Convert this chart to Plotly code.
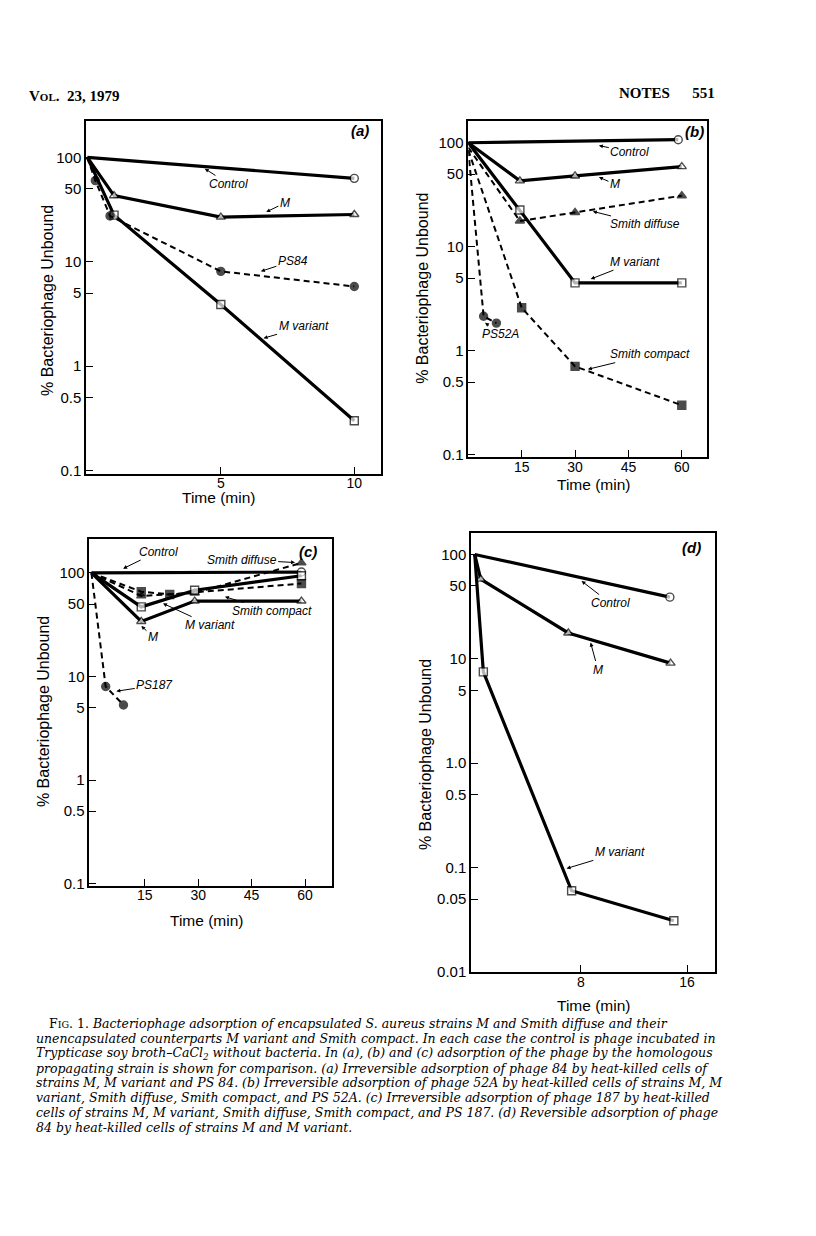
import math

import plotly.graph_objects as go

# ---- panel (a): phage 84, irreversible ----
A_CONTROL_T = [0, 10]
A_CONTROL = [100, 63]
A_M_T = [0, 1, 5, 10]
A_M = [100, 43, 26.8, 28.4]
A_PS84_T = [0, 0.3, 0.85, 5, 10]
A_PS84 = [100, 60, 27.5, 8.1, 5.8]
A_MVAR_T = [0, 1, 5, 10]
A_MVAR = [100, 28, 3.9, 0.30]

# ---- panel (b): phage 52A, irreversible ----
B_CONTROL_T = [0, 59]
B_CONTROL = [100, 107]
B_M_T = [0, 14.5, 30, 60]
B_M = [100, 43, 48, 59]
B_SDIFF_T = [0, 14.5, 30, 60]
B_SDIFF = [90, 17.7, 21.4, 31]
B_MVAR_T = [0, 14.5, 30, 60]
B_MVAR = [100, 22.6, 4.5, 4.5]
B_SCOMP_T = [0, 15, 30, 60]
B_SCOMP = [85, 2.6, 0.71, 0.30]
B_PS52A_T = [0, 4.3, 7.9]
B_PS52A = [85, 2.15, 1.85]

# ---- panel (c): phage 187, irreversible ----
C_CONTROL_T = [0, 59]
C_CONTROL = [100, 102]
C_M_T = [0, 14, 29, 59]
C_M = [100, 34, 53.5, 53.5]
C_MVAR_T = [0, 14, 29, 59]
C_MVAR = [100, 47, 68, 94]
C_SDIFF_T = [0, 14, 29, 59]
C_SDIFF = [100, 60, 64, 125]
C_SCOMP_T = [0, 14, 22, 59]
C_SCOMP = [100, 66, 62, 79]
C_PS187_T = [0, 4, 9]
C_PS187 = [100, 8.0, 5.3]

# ---- panel (d): phage 84, reversible ----
D_CONTROL_T = [0, 14.7]
D_CONTROL = [100, 39]
D_M_T = [0, 0.45, 7.05, 14.75]
D_M = [100, 58, 17.7, 9.1]
D_MVAR_T = [0, 0.65, 7.3, 15]
D_MVAR = [100, 7.5, 0.06, 0.031]

X_TICKS_A = [5, 10]
X_TICKS_BC = [15, 30, 45, 60]
X_TICKS_D = [8, 16]
Y_TICKS_ABC = [100, 50, 10, 5, 1, 0.5, 0.1]
Y_LABELS_ABC = ["100", "50", "10", "5", "1", "0.5", "0.1"]
Y_TICKS_D = [100, 50, 10, 5, 1, 0.5, 0.1, 0.05, 0.01]
Y_LABELS_D = ["100", "50", "10", "5", "1.0", "0.5", "0.1", "0.05", "0.01"]

CAPTION = [
    "F<span style='font-size:9.5px'>IG</span>. 1. <i>Bacteriophage adsorption of encapsulated S. aureus strains M and Smith diffuse and their</i>",
    "<i>unencapsulated counterparts M variant and Smith compact. In each case the control is phage incubated in</i>",
    "<i>Trypticase soy broth–CaCl<sub>2</sub> without bacteria. In (a), (b) and (c) adsorption of the phage by the homologous</i>",
    "<i>propagating strain is shown for comparison. (a) Irreversible adsorption of phage 84 by heat-killed cells of</i>",
    "<i>strains M, M variant and PS 84. (b) Irreversible adsorption of phage 52A by heat-killed cells of strains M, M</i>",
    "<i>variant, Smith diffuse, Smith compact, and PS 52A. (c) Irreversible adsorption of phage 187 by heat-killed</i>",
    "<i>cells of strains M, M variant, Smith diffuse, Smith compact, and PS 187. (d) Reversible adsorption of phage</i>",
    "<i>84 by heat-killed cells of strains M and M variant.</i>",
]

W, H = 816, 1236
SANS = "Liberation Sans"
SERIF = "Liberation Serif"


def px(x):
    return x / W


def py(y):
    return 1 - y / H


def add_series(fig, n, t, v, symbol, filled, dashed):
    sizes = [0 if ti == 0 else 8 for ti in t]
    fig.add_trace(go.Scatter(
        x=t, y=v, mode="lines+markers", xaxis=f"x{n}", yaxis=f"y{n}",
        line=dict(color="black", width=2 if dashed else 3.2, dash="6px,4px" if dashed else "solid"),
        marker=dict(symbol=symbol, size=sizes, color="black" if filled else "white",
                    line=dict(color="black", width=1.4)),
        showlegend=False, cliponaxis=False,
    ))


def label(fig, n, text, tx, ty, x, y):
    fig.add_annotation(
        x=x, y=math.log10(y), ax=tx, ay=math.log10(ty),
        xref=f"x{n}", yref=f"y{n}", axref=f"x{n}", ayref=f"y{n}",
        text=f"<i>{text}</i>", showarrow=True, arrowhead=2, arrowsize=0.8,
        arrowwidth=1, arrowcolor="black",
        font=dict(family=SANS, size=12, color="black"),
    )


def tag(fig, n, text, x, y):
    fig.add_annotation(x=x, y=math.log10(y), xref=f"x{n}", yref=f"y{n}",
                       xanchor="center", yanchor="middle",
                       text=f"<b><i>{text}</i></b>", showarrow=False,
                       font=dict(family=SANS, size=15, color="black"))


def page_text(fig, x, y, text, font, xanchor="center", angle=0):
    fig.add_annotation(x=px(x), y=py(y), xref="paper", yref="paper",
                       xanchor=xanchor, yanchor="middle", textangle=angle,
                       text=text, showarrow=False, font=font)


def x_axis(domain, rng, ticks, anchor):
    return dict(domain=domain, range=rng, tickvals=ticks, ticktext=[str(t) for t in ticks],
                ticks="inside", ticklen=7, tickwidth=1.4, tickcolor="black",
                showline=True, linewidth=1.5, linecolor="black", mirror=True,
                showgrid=False, zeroline=False, anchor=anchor, ticklabelstandoff=-4,
                tickfont=dict(family=SANS, size=14, color="black"))


def y_axis(domain, rng, ticks, labels, anchor):
    return dict(domain=domain, type="log", range=rng, tickvals=ticks, ticktext=labels,
                ticks="inside", ticklen=7, tickwidth=1.4, tickcolor="black",
                showline=True, linewidth=1.5, linecolor="black", mirror=True,
                showgrid=False, zeroline=False, anchor=anchor,
                tickfont=dict(family=SANS, size=15, color="black"))


fig = go.Figure()

# (a)
add_series(fig, "", A_CONTROL_T, A_CONTROL, "circle", False, False)
add_series(fig, "", A_M_T, A_M, "triangle-up", False, False)
add_series(fig, "", A_MVAR_T, A_MVAR, "square", False, False)
add_series(fig, "", A_PS84_T, A_PS84, "circle", True, True)
# (b)
add_series(fig, "2", B_CONTROL_T, B_CONTROL, "circle", False, False)
add_series(fig, "2", B_M_T, B_M, "triangle-up", False, False)
add_series(fig, "2", B_MVAR_T, B_MVAR, "square", False, False)
add_series(fig, "2", B_SDIFF_T, B_SDIFF, "triangle-up", True, True)
add_series(fig, "2", B_SCOMP_T, B_SCOMP, "square", True, True)
add_series(fig, "2", B_PS52A_T, B_PS52A, "circle", True, True)
# (c)
add_series(fig, "3", C_CONTROL_T, C_CONTROL, "circle", False, False)
add_series(fig, "3", C_SDIFF_T, C_SDIFF, "triangle-up", True, True)
add_series(fig, "3", C_SCOMP_T, C_SCOMP, "square", True, True)
add_series(fig, "3", C_M_T, C_M, "triangle-up", False, False)
add_series(fig, "3", C_MVAR_T, C_MVAR, "square", False, False)
add_series(fig, "3", C_PS187_T, C_PS187, "circle", True, True)
# (d)
add_series(fig, "4", D_CONTROL_T, D_CONTROL, "circle", False, False)
add_series(fig, "4", D_M_T, D_M, "triangle-up", False, False)
add_series(fig, "4", D_MVAR_T, D_MVAR, "square", False, False)

# curve labels
tag(fig, "", "(a)", 10.2, 182)
label(fig, "", "Control", 5.3, 55.7, 4.4, 78)
label(fig, "", "M", 7.4, 36.6, 6.7, 30)
label(fig, "", "PS84", 7.7, 10.2, 6.5, 8.1)
label(fig, "", "M variant", 8.1, 2.4, 6.6, 1.85)

tag(fig, "2", "(b)", 63.5, 128)
label(fig, "2", "Control", 45.4, 81.5, 36.7, 94)
label(fig, "2", "M", 41.2, 39.9, 36.7, 46.8)
label(fig, "2", "Smith diffuse", 49.7, 16.4, 35, 21.9)
label(fig, "2", "M variant", 46.9, 7.2, 34.4, 4.9)
label(fig, "2", "PS52A", 9.1, 1.46, 4.7, 1.86)
label(fig, "2", "Smith compact", 51.1, 0.93, 33.6, 0.665)

tag(fig, "3", "(c)", 60.9, 161)
label(fig, "3", "Control", 18.7, 161, 8.9, 110)
label(fig, "3", "Smith diffuse", 42.2, 134.6, 57.2, 126)
label(fig, "3", "Smith compact", 50.6, 42.9, 37.5, 58.9)
label(fig, "3", "M variant", 33.3, 31.3, 20.1, 50.8)
label(fig, "3", "M", 17.3, 24.2, 14, 30.8)
label(fig, "3", "PS187", 17.8, 8.2, 7.0, 7.2)

tag(fig, "4", "(d)", 16.3, 115.6)
label(fig, "4", "Control", 10.2, 34.2, 8.05, 55.7)
label(fig, "4", "M", 9.28, 7.9, 8.73, 14.3)
label(fig, "4", "M variant", 10.93, 0.14, 6.92, 0.098)

# axis titles
title_font = dict(family=SANS, size=16, color="black")
for (x, y) in [(47, 303), (421.7, 290), (43, 716.7), (425, 760)]:
    page_text(fig, x, y, "% Bacteriophage Unbound", title_font, angle=-90)
for (x, y) in [(218, 501), (593, 488), (206.7, 926.7), (593, 1012)]:
    page_text(fig, x, y, "Time (min)", dict(family=SANS, size=15.5, color="black"))

# page header
head_font = dict(family=SERIF, size=15, color="black")
page_text(fig, 27, 97, "<b>V<span style='font-size:11px'>OL</span>.  23, 1979</b>", head_font, xanchor="left")
page_text(fig, 717, 94, "<b>NOTES      551</b>", head_font, xanchor="right")

# caption
cap_font = dict(family="DejaVu Serif", size=12.5, color="black")
for i, line in enumerate(CAPTION):
    page_text(fig, 47 if i == 0 else 34, 1030 + 15 * i, line, cap_font, xanchor="left")

fig.update_layout(
    width=W, height=H, margin=dict(l=0, r=0, t=0, b=0),
    paper_bgcolor="white", plot_bgcolor="white",
    xaxis=x_axis([px(86), px(381)], [-0.05, 11.0], X_TICKS_A, "y"),
    yaxis=y_axis([py(476.7), py(121.7)], [-1.03, 2.35], Y_TICKS_ABC, Y_LABELS_ABC, "x"),
    xaxis2=x_axis([px(468.3), px(706.7)], [0, 67], X_TICKS_BC, "y2"),
    yaxis2=y_axis([py(460), py(121.7)], [-1.02, 2.21], Y_TICKS_ABC, Y_LABELS_ABC, "x2"),
    xaxis3=x_axis([px(89.3), px(331.7)], [-0.6, 67.5], X_TICKS_BC, "y3"),
    yaxis3=y_axis([py(891.7), py(542.7)], [-1.023, 2.326], Y_TICKS_ABC, Y_LABELS_ABC, "x3"),
    xaxis4=x_axis([px(471), px(715)], [-0.28, 18.1], X_TICKS_D, "y4"),
    yaxis4=y_axis([py(978.3), py(536)], [-2, 2.21], Y_TICKS_D, Y_LABELS_D, "x4"),
)

fig.write_html(
    "out.html",
    config={"displayModeBar": False},
    post_script="document.body.style.margin='0';document.body.style.overflow='hidden';",
)
